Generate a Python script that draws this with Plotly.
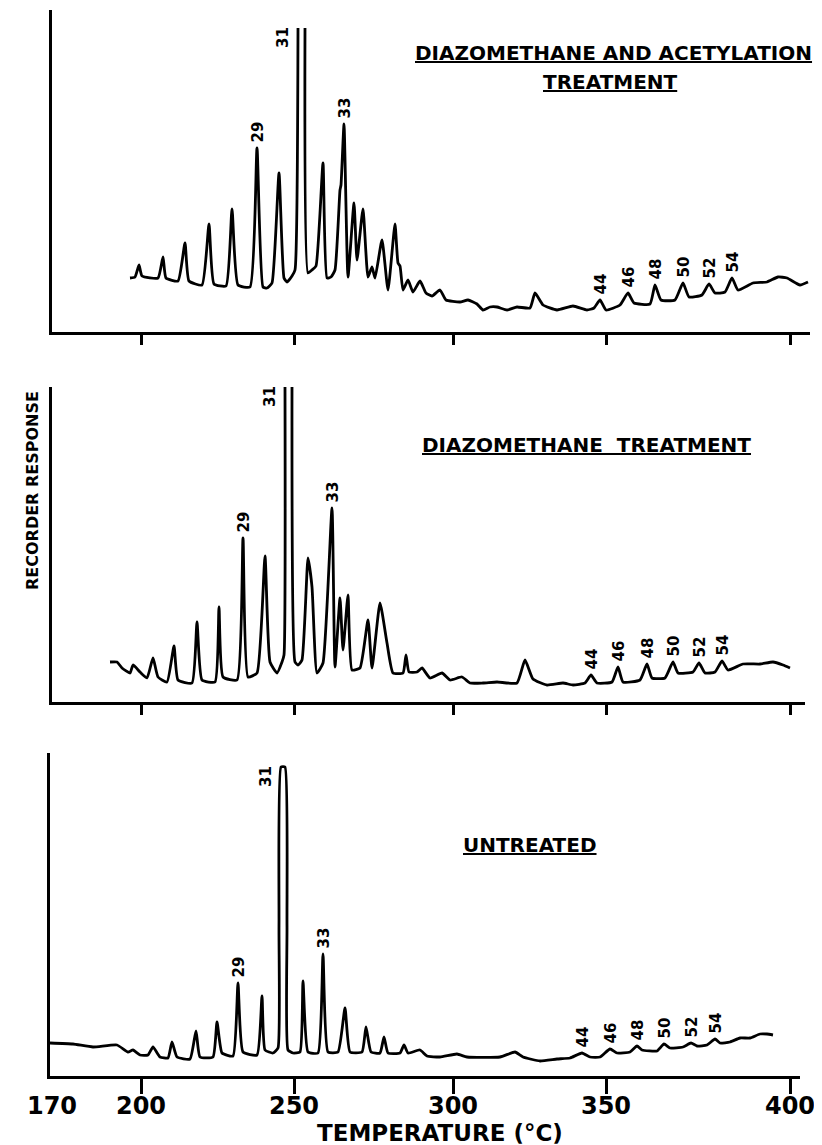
import plotly.graph_objects as go

# ---------------- data (chart position along recorder trace, response in arbitrary units) -------------
TICK_POS = [0, 89, 242, 401, 554, 738]
TICK_LABELS = ["170", "200", "250", "300", "350", "400"]

PANEL_TITLES = [["DIAZOMETHANE AND ACETYLATION", "TREATMENT"],
                ["DIAZOMETHANE  TREATMENT"],
                ["UNTREATED"]]

# Top: diazomethane and acetylation treatment (peak 31 off scale -> two pen strokes)
TOP_X = [78, 83, 87, 90, 106, 111, 114, 126, 133, 137, 150, 157, 162, 174, 180, 186, 198, 205, 211, 215,
         220, 227, 232, 235, 240, 243, 246, None, 253, 256, 260, 264, 271, 275, 279, 283, 288, 289, 292,
         296, 302, 305, 311, 316, 320, 323, 330, 336, 343, 346, 348, 351, 356, 361, 368, 374, 380, 388,
         394, 408, 416, 425, 431, 438, 445, 455, 465, 478, 483, 491, 505, 521, 535, 542, 548, 554, 568,
         576, 582, 598, 603, 609, 623, 631, 637, 650, 657, 663, 673, 680, 686, 701, 715, 726, 735, 748, 756]
TOP_Y = [54, 55, 67, 56, 54, 75, 54, 51, 89, 51, 47, 108, 48, 46, 123, 47, 45, 184, 45, 44,
         49, 159, 54, 50, 56, 62, 304, None, 304, 59, 62, 66, 169, 54, 55, 62, 142, 147, 208,
         55, 129, 72, 123, 55, 65, 54, 92, 42, 108, 69, 66, 42, 52, 40, 51, 39, 36, 42,
         32, 30, 32, 28, 22, 25, 25, 22, 25, 24, 39, 27, 22, 26, 22, 24, 32, 22, 27,
         39, 29, 28, 47, 32, 32, 49, 35, 37, 48, 39, 40, 54, 42, 49, 50, 55, 54, 47, 50]
TOP_LABELS = ["29", "33", "44", "46", "48", "50", "52", "54"]
TOP_LABEL_X = [205, 292, 548, 576, 603, 631, 657, 680]
TOP_LABEL_Y = [184, 208, 32, 39, 47, 49, 48, 54]
TOP_OFFSCALE = (246, 304)

# Middle: diazomethane treatment
MID_X = [58, 65, 70, 78, 81, 88, 95, 101, 106, 115, 122, 126, 140, 145, 150, 163, 167, 171, 185, 191,
         196, 205, 213, 218, 225, 230, 232, 233, None, 240, 243, 246, 250, 256, 260, 265, 271, 280, 283,
         288, 291, 296, 300, 308, 316, 320, 328, 335, 341, 351, 354, 357, 365, 370, 378, 390, 398, 410,
         418, 431, 445, 465, 473, 481, 495, 511, 521, 533, 539, 545, 560, 566, 571, 588, 595, 600, 613,
         621, 626, 641, 647, 653, 663, 670, 676, 691, 708, 721, 731, 738]
MID_Y = [40, 40, 34, 29, 37, 30, 24, 44, 25, 20, 56, 22, 19, 80, 22, 20, 95, 25, 22, 164,
         25, 29, 146, 40, 29, 40, 47, 315, None, 315, 40, 37, 42, 144, 115, 29, 39, 194, 35,
         104, 52, 107, 32, 34, 82, 34, 99, 59, 29, 29, 47, 30, 30, 34, 24, 29, 22, 25,
         19, 19, 20, 19, 42, 23, 17, 19, 17, 19, 27, 19, 20, 35, 20, 22, 38, 24, 24,
         40, 29, 30, 39, 29, 30, 41, 32, 38, 38, 40, 37, 34]
MID_LABELS = ["29", "33", "44", "46", "48", "50", "52", "54"]
MID_LABEL_X = [191, 280, 539, 566, 595, 621, 647, 670]
MID_LABEL_Y = [164, 194, 27, 35, 38, 40, 39, 41]
MID_OFFSCALE = (233, 315)

# Bottom: untreated
BOT_X = [-2, 21, 41, 65, 76, 81, 88, 96, 101, 108, 116, 120, 125, 138, 144, 148, 161, 165, 170, 181,
         186, 191, 205, 210, 213, 221, 226, 227, 229, 233, 235, 236, 241, 248, 251, 256, 266, 271, 276,
         286, 293, 298, 310, 314, 319, 328, 332, 336, 348, 352, 356, 368, 375, 388, 405, 415, 448, 463,
         471, 488, 505, 518, 530, 538, 548, 558, 565, 578, 585, 590, 605, 612, 618, 631, 639, 645, 655,
         663, 668, 678, 688, 698, 708, 715, 721]
BOT_Y = [33, 32, 29, 31, 24, 26, 21, 21, 29, 19, 18, 34, 19, 17, 45, 19, 19, 54, 23, 20,
         93, 24, 21, 80, 26, 23, 28, 150, 309, 309, 150, 26, 23, 24, 95, 24, 23, 122, 24,
         24, 68, 24, 24, 49, 24, 23, 39, 23, 23, 31, 23, 26, 20, 19, 22, 19, 19, 24,
         19, 15, 17, 18, 23, 19, 19, 27, 23, 24, 30, 26, 25, 32, 28, 29, 33, 30, 31,
         37, 33, 34, 38, 38, 42, 42, 41]
BOT_LABELS = ["29", "33", "44", "46", "48", "50", "52", "54"]
BOT_LABEL_X = [186, 271, 530, 558, 585, 612, 639, 663]
BOT_LABEL_Y = [93, 122, 23, 27, 30, 32, 33, 37]
BOT_OFFSCALE = (229, 309)

# ---------------- figure -------------
W, H = 822, 1145
PAGE = 8  # default body margin of the html page
BOLD = "DejaVu Sans"


def px_x(px):
    return (px - PAGE) / W


def px_y(py):
    return 1 - (py - PAGE) / H


panels = [
    dict(x=TOP_X, y=TOP_Y, lab=TOP_LABELS, lx=TOP_LABEL_X, ly=TOP_LABEL_Y, p31=TOP_OFFSCALE,
         left=52, right=810, ytop=10, ybot=332, ticklen=10),
    dict(x=MID_X, y=MID_Y, lab=MID_LABELS, lx=MID_LABEL_X, ly=MID_LABEL_Y, p31=MID_OFFSCALE,
         left=52, right=805, ytop=387, ybot=702, ticklen=10),
    dict(x=BOT_X, y=BOT_Y, lab=BOT_LABELS, lx=BOT_LABEL_X, ly=BOT_LABEL_Y, p31=BOT_OFFSCALE,
         left=50, right=800, ytop=753, ybot=1076, ticklen=15),
]

fig = go.Figure()
annotations = []
layout = dict(width=W, height=H, margin=dict(l=0, r=0, t=0, b=0, autoexpand=False),
              paper_bgcolor="white", plot_bgcolor="white", showlegend=False)

for i, p in enumerate(panels):
    n = "" if i == 0 else str(i + 1)
    fig.add_trace(go.Scatter(x=p["x"], y=p["y"], mode="lines", xaxis="x" + n, yaxis="y" + n,
                             line=dict(color="black", width=2.8, shape="spline", smoothing=0.45),
                             connectgaps=False, hoverinfo="skip"))
    x0 = -2 if p["left"] == 50 else 0
    xr = [x0, x0 + (p["right"] - p["left"])]
    yr = [0, p["ybot"] - p["ytop"]]
    layout["xaxis" + n] = dict(domain=[px_x(p["left"]), px_x(p["right"])], range=xr, anchor="y" + n,
                               showline=True, linecolor="black", linewidth=3, showgrid=False,
                               zeroline=False, ticks="outside", tickvals=TICK_POS[1:],
                               ticklen=p["ticklen"], tickwidth=2.5, tickcolor="black",
                               showticklabels=False, fixedrange=True)
    layout["yaxis" + n] = dict(domain=[px_y(p["ybot"]), px_y(p["ytop"])], range=yr,
                               anchor="x" + n, showline=True, linecolor="black", linewidth=3,
                               showgrid=False, zeroline=False, ticks="", showticklabels=False,
                               fixedrange=True)
    # peak numbers
    for t, lx, ly in zip(p["lab"], p["lx"], p["ly"]):
        annotations.append(dict(x=lx, y=ly, xref="x" + n, yref="y" + n, text=t, textangle=-90,
                                showarrow=False, xanchor="center", yanchor="bottom", yshift=3,
                                font=dict(family=BOLD, size=15, color="black", weight="bold")))
    annotations.append(dict(x=p["p31"][0], y=p["p31"][1], xref="x" + n, yref="y" + n, text="31",
                            textangle=-90, showarrow=False, xanchor="right", yanchor="middle",
                            xshift=-4, yshift=-10,
                            font=dict(family=BOLD, size=15, color="black", weight="bold")))

# temperature labels on the bottom panel (overlay axis so that 170 has no tick mark)
layout["xaxis4"] = dict(domain=[px_x(50), px_x(800)], range=[-2, 748], anchor="y3", overlaying="x3",
                        showline=False, showgrid=False, zeroline=False, ticks="outside",
                        tickvals=TICK_POS, ticktext=TICK_LABELS, ticklen=8,
                        tickcolor="rgba(0,0,0,0)", fixedrange=True,
                        tickfont=dict(family=BOLD, size=24, color="black", weight="bold"))
fig.add_trace(go.Scatter(x=[None], y=[None], xaxis="x4", yaxis="y3", hoverinfo="skip"))

# panel titles
title_pos = [[(613, 53), (610, 82)], [(586, 445)], [(530, 845)]]
for lines, pos in zip(PANEL_TITLES, title_pos):
    for t, (px, py) in zip(lines, pos):
        annotations.append(dict(x=px_x(px), y=px_y(py), xref="paper", yref="paper", text=t,
                                showarrow=False, xanchor="center", yanchor="middle",
                                font=dict(family=BOLD, size=20, color="black", weight="bold",
                                          lineposition="under")))

annotations.append(dict(x=px_x(32), y=px_y(491), xref="paper", yref="paper",
                        text="RECORDER RESPONSE", textangle=-90, showarrow=False,
                        xanchor="center", yanchor="middle",
                        font=dict(family=BOLD, size=16, color="black", weight="bold")))
annotations.append(dict(x=px_x(440), y=px_y(1133), xref="paper", yref="paper",
                        text="TEMPERATURE (°C)", showarrow=False, xanchor="center",
                        yanchor="middle",
                        font=dict(family=BOLD, size=23, color="black", weight="bold")))

layout["annotations"] = annotations
fig.update_layout(**layout)
fig.write_html("out.html")
